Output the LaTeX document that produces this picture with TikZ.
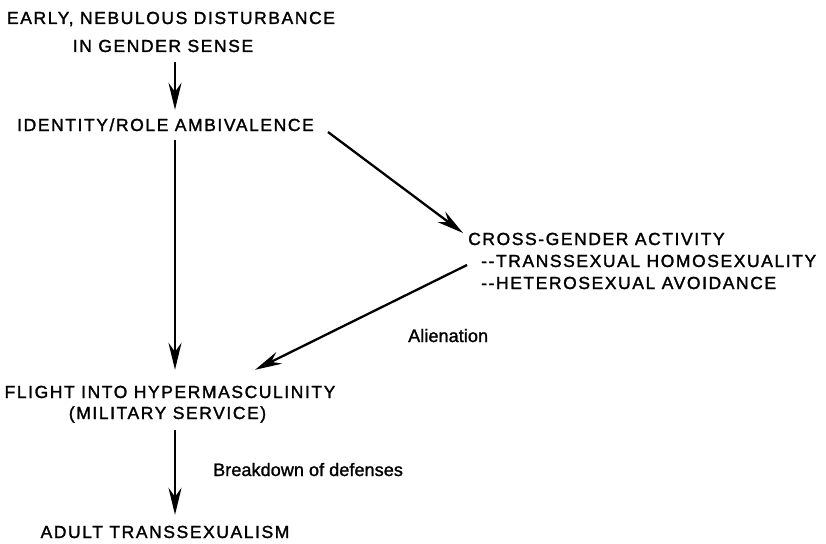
\documentclass[tikz,border=0pt]{standalone}
\usepackage{fontspec}
\setmainfont{Liberation Sans}
\usetikzlibrary{arrows.meta,calc}
\begin{document}
\begin{tikzpicture}[x=1pt,y=-1pt,
  lbl/.style={inner sep=0pt, font=\fontsize{17.5}{20}\selectfont\addfontfeature{LetterSpace=9,FakeBold=1.6}, text height=12pt, text depth=0pt},
  note/.style={inner sep=0pt, font=\fontsize{18}{20}\selectfont\addfontfeature{LetterSpace=0.5,FakeBold=1.4}, text height=13pt, text depth=0pt},
  arr/.style={line width=2.3pt, -{Stealth[length=27pt,width=13pt,inset=9pt]}}]
\useasboundingbox (0,0) rectangle (826,543);
\coordinate (ax) at (175,0);
\node[lbl, anchor=base] (l1) at (171,24) {EARLY, NEBULOUS DISTURBANCE};
\node[lbl, anchor=base] (l2) at (163,52) {IN GENDER SENSE};
\node[lbl, anchor=base] (ident) at (165.5,131) {IDENTITY/ROLE AMBIVALENCE};
\node[lbl, anchor=base west] (cross) at (468,245) {CROSS-GENDER ACTIVITY};
\node[lbl, anchor=base west] (trans) at (481,267) {-{}-TRANSSEXUAL HOMOSEXUALITY};
\node[lbl, anchor=base west] (hetero) at (481,289) {-{}-HETEROSEXUAL AVOIDANCE};
\node[note, anchor=base west] (alien) at (408,342) {Alienation};
\node[lbl, anchor=base] (flight) at (170,398) {FLIGHT INTO HYPERMASCULINITY};
\node[lbl, anchor=base] (mil) at (167.5,419) {(MILITARY SERVICE)};
\node[note, anchor=base west] (brk) at (213,476) {Breakdown of defenses};
\node[lbl, anchor=base] (adult) at (165,538) {ADULT TRANSSEXUALISM};

\draw[arr, shorten <=10pt, shorten >=9pt] (l2.south -| ax) -- (ident.north -| ax);
\draw[arr, shorten <=9pt, shorten >=16pt] (ident.south -| ax) -- (flight.north -| ax);
\draw[arr] ($(ident.east)+(14,7)$) -- ($(cross.west)+(-5,-6)$);
\draw[arr] ($(trans.west)+(-14,4)$) -- ($(flight.north)+(85,-16)$);
\draw[arr, shorten <=11pt, shorten >=11pt] (mil.south -| ax) -- (adult.north -| ax);
\end{tikzpicture}
\end{document}
